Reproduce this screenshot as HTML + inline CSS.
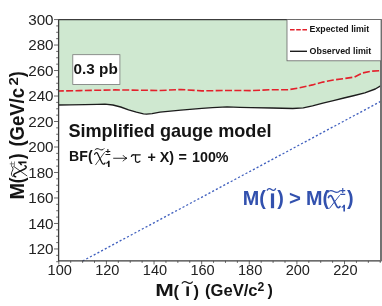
<!DOCTYPE html>
<html><head><meta charset="utf-8"><title>Simplified gauge model limits</title>
<style>
html,body{margin:0;padding:0;background:#fff;}
body{width:382px;height:306px;overflow:hidden;}
svg{display:block;will-change:transform;font-family:"Liberation Sans",sans-serif;}
.b{font-weight:bold;}
.ser{font-family:"Liberation Serif",serif;font-weight:normal;}
</style></head><body>
<svg width="382" height="306" viewBox="0 0 382 306">
<rect width="382" height="306" fill="#fff"/>
<!-- excluded region -->
<polygon fill="#cfe8d0" points="58.6,19.6 381.0,19.6 381.0,85.6 375.3,89.0 364.8,92.8 354.4,95.5 343.9,98.0 333.4,100.6 322.9,103.1 312.5,105.8 303.3,107.9 292.8,108.5 271.9,108.0 251.0,107.6 240.0,107.3 227.0,106.9 212.4,107.6 201.9,108.4 180.9,110.1 160.0,112.2 152.1,113.6 146.6,114.2 143.5,113.8 136.4,112.2 128.6,109.8 120.7,107.0 112.9,105.0 105.0,104.2 97.4,104.3 85.0,104.6 70.0,104.9 58.6,105.0"/>
<!-- diagonal -->
<line x1="82.6" y1="261.0" x2="380.9" y2="101.3" stroke="#3f5fbe" stroke-width="1.3" stroke-dasharray="2.1 2.1"/>
<!-- limits -->
<polyline fill="none" stroke="#e3202b" stroke-width="1.6" stroke-dasharray="7 2.35" stroke-dashoffset="1.8" points="58.6,91.0 80.0,90.6 115.0,89.9 140.0,90.2 160.0,90.5 181.0,89.5 201.9,90.9 222.8,90.5 240.0,90.5 251.0,90.6 271.9,89.7 288.6,89.7 299.1,87.9 312.5,84.9 322.9,82.1 333.4,80.0 343.9,78.6 354.4,77.1 362.7,72.9 371.1,71.2 381.0,70.6"/>
<polyline fill="none" stroke="#1c1c1c" stroke-width="1.35" stroke-linejoin="round" points="58.6,105.0 70.0,104.9 85.0,104.6 97.4,104.3 105.0,104.2 112.9,105.0 120.7,107.0 128.6,109.8 136.4,112.2 143.5,113.8 146.6,114.2 152.1,113.6 160.0,112.2 180.9,110.1 201.9,108.4 212.4,107.6 227.0,106.9 240.0,107.3 251.0,107.6 271.9,108.0 292.8,108.5 303.3,107.9 312.5,105.8 322.9,103.1 333.4,100.6 343.9,98.0 354.4,95.5 364.8,92.8 375.3,89.0 381.0,85.6"/>
<!-- frame -->
<g stroke="#444" stroke-width="0.8" fill="none"><line x1="56.20" y1="261.70" x2="58.60" y2="261.70"/><line x1="56.20" y1="255.33" x2="58.60" y2="255.33"/><line x1="54.00" y1="248.96" x2="58.60" y2="248.96"/><line x1="56.20" y1="242.59" x2="58.60" y2="242.59"/><line x1="56.20" y1="236.22" x2="58.60" y2="236.22"/><line x1="56.20" y1="229.84" x2="58.60" y2="229.84"/><line x1="54.00" y1="223.47" x2="58.60" y2="223.47"/><line x1="56.20" y1="217.10" x2="58.60" y2="217.10"/><line x1="56.20" y1="210.72" x2="58.60" y2="210.72"/><line x1="56.20" y1="204.35" x2="58.60" y2="204.35"/><line x1="54.00" y1="197.98" x2="58.60" y2="197.98"/><line x1="56.20" y1="191.61" x2="58.60" y2="191.61"/><line x1="56.20" y1="185.24" x2="58.60" y2="185.24"/><line x1="56.20" y1="178.86" x2="58.60" y2="178.86"/><line x1="54.00" y1="172.49" x2="58.60" y2="172.49"/><line x1="56.20" y1="166.12" x2="58.60" y2="166.12"/><line x1="56.20" y1="159.75" x2="58.60" y2="159.75"/><line x1="56.20" y1="153.37" x2="58.60" y2="153.37"/><line x1="54.00" y1="147.00" x2="58.60" y2="147.00"/><line x1="56.20" y1="140.63" x2="58.60" y2="140.63"/><line x1="56.20" y1="134.25" x2="58.60" y2="134.25"/><line x1="56.20" y1="127.88" x2="58.60" y2="127.88"/><line x1="54.00" y1="121.51" x2="58.60" y2="121.51"/><line x1="56.20" y1="115.14" x2="58.60" y2="115.14"/><line x1="56.20" y1="108.77" x2="58.60" y2="108.77"/><line x1="56.20" y1="102.39" x2="58.60" y2="102.39"/><line x1="54.00" y1="96.02" x2="58.60" y2="96.02"/><line x1="56.20" y1="89.65" x2="58.60" y2="89.65"/><line x1="56.20" y1="83.28" x2="58.60" y2="83.28"/><line x1="56.20" y1="76.90" x2="58.60" y2="76.90"/><line x1="54.00" y1="70.53" x2="58.60" y2="70.53"/><line x1="56.20" y1="64.16" x2="58.60" y2="64.16"/><line x1="56.20" y1="57.78" x2="58.60" y2="57.78"/><line x1="56.20" y1="51.41" x2="58.60" y2="51.41"/><line x1="54.00" y1="45.04" x2="58.60" y2="45.04"/><line x1="56.20" y1="38.67" x2="58.60" y2="38.67"/><line x1="56.20" y1="32.30" x2="58.60" y2="32.30"/><line x1="56.20" y1="25.92" x2="58.60" y2="25.92"/><line x1="54.00" y1="19.55" x2="58.60" y2="19.55"/><line x1="58.80" y1="260.90" x2="58.80" y2="264.50"/><line x1="70.70" y1="260.90" x2="70.70" y2="262.90"/><line x1="82.61" y1="260.90" x2="82.61" y2="262.90"/><line x1="94.51" y1="260.90" x2="94.51" y2="262.90"/><line x1="106.42" y1="260.90" x2="106.42" y2="264.50"/><line x1="118.32" y1="260.90" x2="118.32" y2="262.90"/><line x1="130.23" y1="260.90" x2="130.23" y2="262.90"/><line x1="142.13" y1="260.90" x2="142.13" y2="262.90"/><line x1="154.04" y1="260.90" x2="154.04" y2="264.50"/><line x1="165.94" y1="260.90" x2="165.94" y2="262.90"/><line x1="177.85" y1="260.90" x2="177.85" y2="262.90"/><line x1="189.75" y1="260.90" x2="189.75" y2="262.90"/><line x1="201.66" y1="260.90" x2="201.66" y2="264.50"/><line x1="213.56" y1="260.90" x2="213.56" y2="262.90"/><line x1="225.47" y1="260.90" x2="225.47" y2="262.90"/><line x1="237.38" y1="260.90" x2="237.38" y2="262.90"/><line x1="249.28" y1="260.90" x2="249.28" y2="264.50"/><line x1="261.19" y1="260.90" x2="261.19" y2="262.90"/><line x1="273.09" y1="260.90" x2="273.09" y2="262.90"/><line x1="285.00" y1="260.90" x2="285.00" y2="262.90"/><line x1="296.90" y1="260.90" x2="296.90" y2="264.50"/><line x1="308.80" y1="260.90" x2="308.80" y2="262.90"/><line x1="320.71" y1="260.90" x2="320.71" y2="262.90"/><line x1="332.62" y1="260.90" x2="332.62" y2="262.90"/><line x1="344.52" y1="260.90" x2="344.52" y2="264.50"/><line x1="356.43" y1="260.90" x2="356.43" y2="262.90"/><line x1="368.33" y1="260.90" x2="368.33" y2="262.90"/><line x1="380.23" y1="260.90" x2="380.23" y2="262.90"/></g>
<path d="M58.6,19.6 H381.5 M58.6,19.200000000000003 V260.9 H381.5" fill="none" stroke="#3c3c3c" stroke-width="1.3"/>
<line x1="381.0" y1="19.6" x2="381.0" y2="260.9" stroke="#6c6c6c" stroke-width="1.9"/>
<!-- tick labels -->
<g font-size="14" fill="#222"><text x="28.2" y="254.16" textLength="25.4" lengthAdjust="spacingAndGlyphs">120</text><text x="28.2" y="228.67" textLength="25.4" lengthAdjust="spacingAndGlyphs">140</text><text x="28.2" y="203.18" textLength="25.4" lengthAdjust="spacingAndGlyphs">160</text><text x="28.2" y="177.69" textLength="25.4" lengthAdjust="spacingAndGlyphs">180</text><text x="28.2" y="152.20" textLength="25.4" lengthAdjust="spacingAndGlyphs">200</text><text x="28.2" y="126.71" textLength="25.4" lengthAdjust="spacingAndGlyphs">220</text><text x="28.2" y="101.22" textLength="25.4" lengthAdjust="spacingAndGlyphs">240</text><text x="28.2" y="75.73" textLength="25.4" lengthAdjust="spacingAndGlyphs">260</text><text x="28.2" y="50.24" textLength="25.4" lengthAdjust="spacingAndGlyphs">280</text><text x="28.2" y="24.75" textLength="25.4" lengthAdjust="spacingAndGlyphs">300</text><text x="47.55" y="275.1" textLength="24.3" lengthAdjust="spacingAndGlyphs">100</text><text x="95.17" y="275.1" textLength="24.3" lengthAdjust="spacingAndGlyphs">120</text><text x="142.79" y="275.1" textLength="24.3" lengthAdjust="spacingAndGlyphs">140</text><text x="190.41" y="275.1" textLength="24.3" lengthAdjust="spacingAndGlyphs">160</text><text x="238.03" y="275.1" textLength="24.3" lengthAdjust="spacingAndGlyphs">180</text><text x="285.65" y="275.1" textLength="24.3" lengthAdjust="spacingAndGlyphs">200</text><text x="333.27" y="275.1" textLength="24.3" lengthAdjust="spacingAndGlyphs">220</text></g>
<!-- 0.3 pb box -->
<rect x="72.8" y="54.7" width="47.1" height="29.7" fill="#fff" stroke="#777" stroke-width="0.8"/>
<text class="b" x="73.6" y="73.6" font-size="15.3" fill="#141414">0.3 pb</text>
<!-- legend -->
<rect x="287" y="19.6" width="94.0" height="41.199999999999996" fill="#fff" stroke="#666" stroke-width="0.8"/>
<line x1="290" y1="29.7" x2="307" y2="29.7" stroke="#e3202b" stroke-width="1.5" stroke-dasharray="4.6 1.6"/>
<line x1="290" y1="51.3" x2="307" y2="51.3" stroke="#1c1c1c" stroke-width="1.4"/>
<text class="b" x="309.6" y="32.3" font-size="8.8" fill="#141414">Expected limit</text>
<text class="b" x="309.6" y="53.8" font-size="8.9" fill="#141414">Observed limit</text>
<!-- titles -->
<text class="b" x="68.4" y="137.2" font-size="18.1" fill="#141414">Simplified gauge model</text>
<g fill="#141414">
<text class="b" x="69.1" y="160.6" font-size="14.1">BF(</text>
<g transform="translate(94.30,152.30) scale(10.900,12.600)" fill="none" stroke="#141414" stroke-linecap="round"><path vector-effect="non-scaling-stroke" stroke-width="1.25" d="M0.03,0.17 C0.07,0.02 0.22,-0.02 0.31,0.11 L0.70,0.83 C0.78,0.98 0.92,0.98 0.98,0.85"/><path vector-effect="non-scaling-stroke" stroke-width="0.75" d="M0.93,0.02 L0.12,0.99"/></g>
<path d="M95.00,149.76 C96.08,148.33 97.88,148.33 99.50,149.30 S102.92,150.28 104.00,148.72" fill="none" stroke="#141414" stroke-width="1.00" stroke-linecap="round"/>
<text class="b" x="105.2" y="154.7" font-size="9.6">±</text>
<path fill="#141414" d="M108.21,160.80 H109.60 V167.10 H107.95 V163.07 L106.30,163.95 V162.69 Q107.69,162.19 108.21,160.80 Z"/>
<path d="M113.6,158.25 H126.6 M123.2,155.5 Q124.6,157.6 127,158.25 Q124.6,158.9 123.2,161" fill="none" stroke="#141414" stroke-width="0.9" stroke-linecap="round" stroke-linejoin="round"/>
<path d="M131.4,156.4 C131.8,155 132.8,154.7 134,154.8 H140.2" fill="none" stroke="#141414" stroke-width="1.35" stroke-linecap="round"/>
<path d="M135.5,155 V160.2 C135.5,162.4 137.6,163 139.9,161.2" fill="none" stroke="#141414" stroke-width="1.25" stroke-linecap="round"/>
<g class="b" font-size="14.3"><text x="147.4" y="162.3">+</text><text x="159.8" y="162.3">X)</text><text x="178.6" y="162.3">=</text><text x="192.0" y="162.3">100%</text></g>
</g>
<!-- blue label -->
<g fill="#3251ae">
<text class="b" x="242.8" y="204.8" font-size="20.4" textLength="23.1" lengthAdjust="spacingAndGlyphs">M(</text>
<rect x="270.9" y="193.4" width="3.2" height="14.8"/>
<path d="M267.30,190.09 C268.28,188.22 269.92,188.22 271.40,189.50 S274.52,190.78 275.50,188.74" fill="none" stroke="#3251ae" stroke-width="1.35" stroke-linecap="round"/>
<text class="b" x="277.2" y="204.8" font-size="20.4" textLength="6.6" lengthAdjust="spacingAndGlyphs">)</text>
<text class="b" x="288.9" y="204.8" font-size="20.4" textLength="11.9" lengthAdjust="spacingAndGlyphs">&gt;</text>
<text class="b" x="306.1" y="204.8" font-size="20.4" textLength="23.1" lengthAdjust="spacingAndGlyphs">M(</text>
<g transform="translate(328.10,195.30) scale(12.200,13.100)" fill="none" stroke="#3251ae" stroke-linecap="round"><path vector-effect="non-scaling-stroke" stroke-width="1.70" d="M0.03,0.17 C0.07,0.02 0.22,-0.02 0.31,0.11 L0.70,0.83 C0.78,0.98 0.92,0.98 0.98,0.85"/><path vector-effect="non-scaling-stroke" stroke-width="1.00" d="M0.93,0.02 L0.12,0.99"/></g>
<path d="M328.00,191.99 C329.42,190.45 331.78,190.45 333.90,191.50 S338.38,192.55 339.80,190.87" fill="none" stroke="#3251ae" stroke-width="1.25" stroke-linecap="round"/>
<text class="b" x="340.0" y="194.8" font-size="10">±</text>
<path fill="#3251ae" d="M343.61,204.80 H345.00 V211.40 H343.35 V207.18 L341.70,208.10 V206.78 Q343.09,206.25 343.61,204.80 Z"/>
<text class="b" x="346.9" y="204.8" font-size="20.4" textLength="6.6" lengthAdjust="spacingAndGlyphs">)</text>
</g>
<!-- x axis label -->
<g fill="#141414">
<text class="b" x="155.3" y="296.2" font-size="15.7" textLength="18.6" lengthAdjust="spacingAndGlyphs">M</text>
<text class="b" x="173.5" y="296.6" font-size="16.5">(</text>
<rect x="186.4" y="286.4" width="2.5" height="9.6"/>
<path d="M182.20,283.16 C183.42,281.40 185.46,281.40 187.30,282.60 S191.18,283.80 192.40,281.88" fill="none" stroke="#141414" stroke-width="1.15" stroke-linecap="round"/>
<text class="b" x="193.5" y="296.6" font-size="16.5">)</text>
<text class="b" x="205.0" y="296" font-size="15.6" textLength="52.6" lengthAdjust="spacingAndGlyphs">(GeV/c</text>
<text class="b" x="257.5" y="291.3" font-size="12.2">2</text>
<text class="b" x="267.4" y="296" font-size="16">)</text>
</g>
<!-- y axis label -->
<g fill="#141414" transform="translate(23.6,0) rotate(-90)">
<text class="b" x="-199.6" y="0" font-size="20">M</text>
<text class="b" x="-183.3" y="0.6" font-size="20" textLength="5.8" lengthAdjust="spacingAndGlyphs">(</text>
<g transform="translate(-177.20,-10.30) scale(11.700,13.700)" fill="none" stroke="#141414" stroke-linecap="round"><path vector-effect="non-scaling-stroke" stroke-width="1.50" d="M0.03,0.17 C0.07,0.02 0.22,-0.02 0.31,0.11 L0.70,0.83 C0.78,0.98 0.92,0.98 0.98,0.85"/><path vector-effect="non-scaling-stroke" stroke-width="0.85" d="M0.93,0.02 L0.12,0.99"/></g>
<path d="M-176.60,-10.84 C-175.32,-12.60 -173.18,-12.60 -171.25,-11.40 S-167.18,-10.20 -165.90,-12.12" fill="none" stroke="#141414" stroke-width="0.90" stroke-linecap="round"/>
<text x="-166.4" y="-9.0" font-size="9.6" fill="#555">±</text>
<path fill="#141414" d="M-163.05,-5.40 H-161.50 V2.90 H-163.35 V-2.41 L-165.20,-1.25 V-2.91 Q-163.65,-3.57 -163.05,-5.40 Z"/>
<text class="b" x="-159.2" y="0.6" font-size="20" textLength="5.8" lengthAdjust="spacingAndGlyphs">)</text>
<text class="b" x="-146.6" y="0" font-size="21" textLength="58.6" lengthAdjust="spacingAndGlyphs">(GeV/c</text>
<text class="b" x="-85.5" y="-5.9" font-size="13" textLength="8.4" lengthAdjust="spacingAndGlyphs">2</text>
<text class="b" x="-77.3" y="0" font-size="21" textLength="6" lengthAdjust="spacingAndGlyphs">)</text>
</g>
</svg>
</body></html>
